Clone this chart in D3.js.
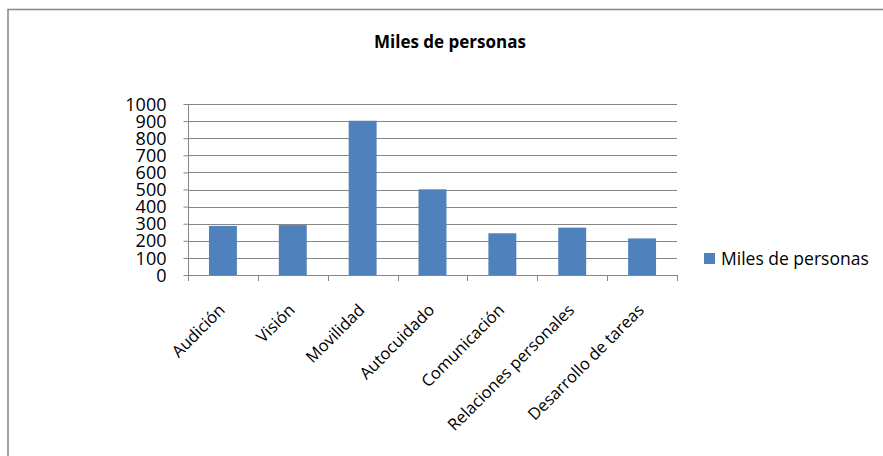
<!DOCTYPE html>
<html>
<head>
<meta charset="utf-8">
<script src="https://cdn.jsdelivr.net/npm/d3@7"></script>
<style>
  html, body { margin: 0; padding: 0; background: #fff; }
  svg { display: block; }
  text { font-family: "Open Sans", "DejaVu Sans", sans-serif; fill: #000; }
</style>
</head>
<body>
<script>
const categories = ["Audición", "Visión", "Movilidad", "Autocuidado", "Comunicación", "Relaciones personales", "Desarrollo de tareas"];
const values = [287, 292, 902, 501, 244, 277, 214];
const yTicks = [0, 100, 200, 300, 400, 500, 600, 700, 800, 900, 1000];
const seriesName = "Miles de personas";
const chartTitle = "Miles de personas";

const W = 883, H = 456;
const plot = { left: 188, right: 677, top: 104, bottom: 275 };
const barColor = "#4F81BD";
const gridColor = "#868686";

const svg = d3.select("body").append("svg").attr("width", W).attr("height", H);

// chart border
svg.append("rect")
  .attr("x", 8).attr("y", 9.5)
  .attr("width", W + 20).attr("height", H + 20)
  .attr("fill", "none").attr("stroke", "#8a8a8a").attr("stroke-width", 1.6);

const x = d3.scaleBand().domain(categories).range([plot.left, plot.right]).padding(0);
const y = d3.scaleLinear().domain([0, 1000]).range([plot.bottom, plot.top]);

// gridlines
svg.append("g").selectAll("line").data(yTicks.filter(d => d > 0)).join("line")
  .attr("x1", plot.left).attr("x2", plot.right)
  .attr("y1", d => Math.round(y(d)) + 0.5).attr("y2", d => Math.round(y(d)) + 0.5)
  .attr("stroke", gridColor).attr("stroke-width", 1);

// bars
const bw = x.bandwidth() * 0.4;
svg.append("g").selectAll("rect").data(categories).join("rect")
  .attr("x", (d) => x(d) + (x.bandwidth() - bw) / 2)
  .attr("width", bw)
  .attr("y", (d, i) => y(values[i]))
  .attr("height", (d, i) => y(0) - y(values[i]))
  .attr("fill", barColor);

// y axis
const yAxis = d3.axisLeft(y).tickValues(yTicks).tickFormat(d3.format("d")).tickSize(5).tickPadding(17);
const gy = svg.append("g").attr("transform", `translate(${plot.left + 0.5},0)`).call(yAxis);
gy.select(".domain").attr("stroke", gridColor).attr("d", `M-0,${plot.top}V${plot.bottom}`);
gy.selectAll(".tick line").attr("stroke", gridColor);
gy.selectAll(".tick text").attr("font-size", 18).attr("font-family", "Open Sans").attr("fill", "#000").attr("dy", "0.34em");

// x axis line
svg.append("line")
  .attr("x1", plot.left).attr("x2", plot.right)
  .attr("y1", Math.round(plot.bottom) + 0.5).attr("y2", Math.round(plot.bottom) + 0.5)
  .attr("stroke", gridColor).attr("stroke-width", 1);

// x ticks at band boundaries
const edges = categories.map(c => x(c)).concat([x.range()[1]]);
svg.append("g").selectAll("line").data(edges).join("line")
  .attr("x1", d => Math.round(d) + 0.5).attr("x2", d => Math.round(d) + 0.5)
  .attr("y1", plot.bottom).attr("y2", plot.bottom + 6)
  .attr("stroke", gridColor);

// x labels
svg.append("g").selectAll("text").data(categories).join("text")
  .attr("transform", d => `translate(${x(d) + x.bandwidth() / 2 - 1},${plot.bottom + 32}) rotate(-45)`)
  .attr("text-anchor", "end")
  .attr("font-size", 16.5)
  .attr("dy", "0.35em")
  .text(d => d);

// title
svg.append("text")
  .attr("x", 450).attr("y", 48)
  .attr("text-anchor", "middle")
  .attr("font-size", 17).attr("font-weight", "bold")
  .text(chartTitle);

// legend
svg.append("rect").attr("x", 704).attr("y", 253).attr("width", 11).attr("height", 11).attr("fill", barColor);
svg.append("text").attr("x", 721).attr("y", 259).attr("dy", "0.35em")
  .attr("font-size", 17.5).text(seriesName);
</script>
</body>
</html>
